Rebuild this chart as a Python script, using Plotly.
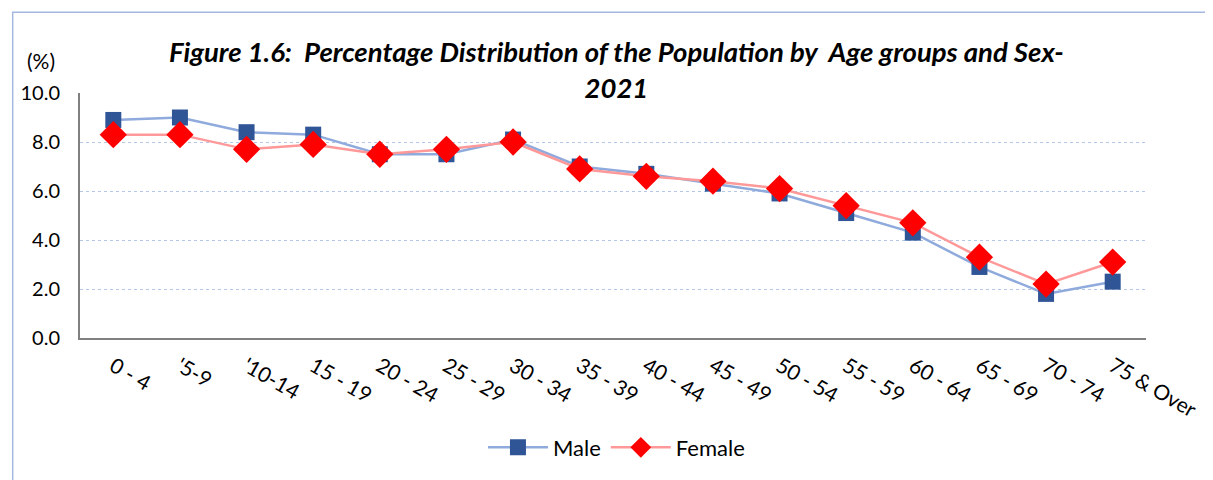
import plotly.graph_objects as go

categories = ["0 - 4", "'5-9", "'10-14", "15 - 19", "20 - 24", "25 - 29", "30 - 34", "35 - 39",
              "40 - 44", "45 - 49", "50 - 54", "55 - 59", "60 - 64", "65 - 69", "70 - 74", "75 & Over"]
male = [8.9, 9.0, 8.4, 8.3, 7.5, 7.5, 8.1, 7.0, 6.7, 6.3, 5.9, 5.1, 4.3, 2.9, 1.8, 2.3]
female = [8.3, 8.3, 7.7, 7.9, 7.5, 7.7, 8.0, 6.9, 6.6, 6.4, 6.1, 5.4, 4.7, 3.3, 2.2, 3.1]
y_ticks = [0, 2, 4, 6, 8, 10]

OFF = 8  # default page body margin
W, H = 1213 - OFF, 480 - OFF
L, R, T, B = 78 - OFF, 58, 93 - OFF, 141
pw, ph = W - L - R, H - T - B

FONT = "Lato, Open Sans, sans-serif"

fig = go.Figure()
fig.add_trace(go.Scatter(
    x=categories, y=male, name="Male", mode="lines+markers",
    line=dict(color="#8FAADC", width=2.5),
    marker=dict(symbol="square", size=16, color="#2F5597"),
))
fig.add_trace(go.Scatter(
    x=categories, y=female, name="Female", mode="lines+markers",
    line=dict(color="#FF9999", width=2.5),
    marker=dict(symbol="diamond", size=21, color="#FF0000"),
))

# convert reference-page pixel coords to paper coords
def px_x(p):
    return (p - OFF - L) / pw

def px_y(p):
    return (H - B - (p - OFF)) / ph

fig.add_shape(type="rect", xref="paper", yref="paper",
              x0=px_x(10), x1=px_x(1240), y0=px_y(500), y1=px_y(12),
              line=dict(color="#A4B8E0", width=1.5), fillcolor="rgba(0,0,0,0)", layer="below")

fig.add_annotation(text="<b><i>Figure 1.6:  Percentage Distribution of the Population by  Age groups and Sex-<br>2021</i></b>",
                   xref="paper", yref="paper", x=px_x(620), y=px_y(69), xanchor="center", yanchor="middle",
                   showarrow=False, font=dict(family=FONT, size=27.5, color="#000000"))
fig.add_annotation(text="(%)", xref="paper", yref="paper", x=px_x(39), y=px_y(60),
                   xanchor="center", yanchor="middle", showarrow=False,
                   font=dict(family=FONT, size=21, color="#000000"))

fig.update_layout(
    width=W, height=H,
    margin=dict(l=L, r=R, t=T, b=B),
    paper_bgcolor="white", plot_bgcolor="white",
    font=dict(family=FONT, size=19, color="#000000"),
    showlegend=True,
    legend=dict(orientation="h", x=px_x(620), xanchor="center", y=px_y(449), yanchor="middle",
                font=dict(size=22), itemwidth=60),
    xaxis=dict(type="category", range=[-0.5, len(categories) - 0.5], tickangle=30,
               showgrid=False, showline=True, ticklabelstandoff=6,
               linecolor="#808080", linewidth=2, ticks="", tickfont=dict(size=21)),
    yaxis=dict(range=[0, 10], tickvals=y_ticks, ticktext=[f"{v:.1f}" for v in y_ticks],
               showgrid=True, gridcolor="#B4C7E7", griddash="dot", gridwidth=1,
               showline=True, linecolor="#808080", linewidth=2, ticks="", ticklabelstandoff=14,
               zeroline=False, tickfont=dict(size=20)),
)

fig.write_html("out.html")
